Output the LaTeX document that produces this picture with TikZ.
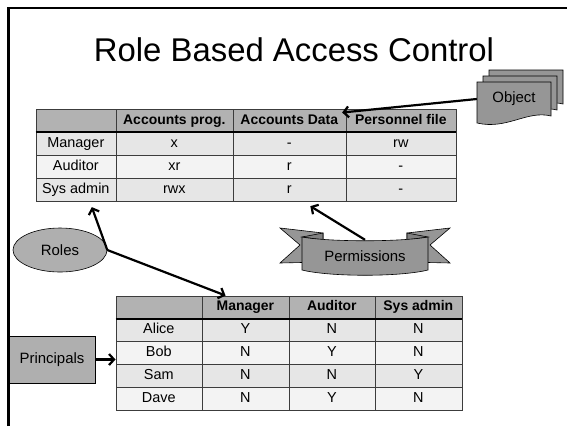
\documentclass[tikz,border=0pt]{standalone}
\usepackage{fontspec}
\setmainfont{Liberation Sans}
\usetikzlibrary{matrix, positioning, arrows.meta, shapes.geometric}
\definecolor{HeadGray}{RGB}{178,178,178}
\definecolor{RowDark}{RGB}{230,230,230}
\definecolor{RowLight}{RGB}{243,243,243}
\definecolor{ShapeGray}{RGB}{175,175,175}
\definecolor{DarkGray}{RGB}{150,150,150}
\definecolor{GridColor}{RGB}{60,60,60}
\tikzstyle{arrow} = [line width=2.2bp, black, -{Straight Barb[length=5bp,width=11bp]}]
\tikzstyle{label} = [font=\fontsize{15}{17}\selectfont]
\tikzset{
  table/.style={matrix of nodes, nodes in empty cells, anchor=north west,
    row sep=-0.6bp, column sep=-0.6bp,
    nodes={draw=GridColor, line width=0.6bp, inner sep=0pt, anchor=center,
      text height=10bp, text depth=2.5bp, font=\fontsize{14.5}{16}\selectfont},
    row 1/.style={nodes={fill=HeadGray, font=\fontsize{14}{16}\selectfont\bfseries}},
    row 2/.style={nodes={fill=RowDark}},
    row 3/.style={nodes={fill=RowLight}},
    row 4/.style={nodes={fill=RowDark}},
    row 5/.style={nodes={fill=RowLight}}},
  document/.pic={
    \path[fill=DarkGray, draw=black, line width=0.6bp]
      (0,0) -- (74,0) -- (74,34) .. controls (50,28) and (30,48) .. (0,41) -- cycle;
  }
}
\begin{document}
\begin{tikzpicture}[x=1bp, y=-1bp]
  \useasboundingbox (0,0) rectangle (567,426);

  % Title
  \node[font=\fontsize{33}{38}\selectfont, anchor=base] (title) at (294,61) {Role Based Access Control};

  % Permissions table (roles x objects)
  \matrix (perm) [table,
    nodes={minimum height=23bp},
    column 1/.style={nodes={minimum width=80bp}},
    column 2/.style={nodes={minimum width=117bp}},
    column 3/.style={nodes={minimum width=113bp}},
    column 4/.style={nodes={minimum width=110bp}}] at (32,105) {
      & Accounts prog. & Accounts Data & Personnel file \\
    Manager & x & - & rw \\
    Auditor & xr & r & - \\
    Sys admin & rwx & r & - \\
  };
  \draw[line width=1.8bp] (perm-1-1.south west) -- (perm-1-4.south east);

  % User assignment table (principals x roles)
  \matrix (ua) [table,
    nodes={minimum height=22.8bp},
    column 1/.style={nodes={minimum width=86bp}},
    column 2/.style={nodes={minimum width=87bp}},
    column 3/.style={nodes={minimum width=86bp}},
    column 4/.style={nodes={minimum width=87bp}}] at (112,292) {
      & Manager & Auditor & Sys admin \\
    Alice & Y & N & N \\
    Bob & N & Y & N \\
    Sam & N & N & Y \\
    Dave & N & Y & N \\
  };
  \draw[line width=1.8bp] (ua-1-1.south west) -- (ua-1-4.south east);

  % Object (stack of documents)
  \pic at (489,70) {document};
  \pic at (483,76) {document};
  \pic at (477,82) {document};
  \node[label, minimum width=74bp, minimum height=32bp] (obj) at (514,99) {Object};

  % Roles
  \node[ellipse, label, draw=black, line width=0.6bp, fill=ShapeGray,
    minimum width=94bp, minimum height=44bp, inner sep=0pt] (roles) at (60,250) {Roles};

  % Principals
  \node[rectangle, label, draw=black, line width=0.6bp, fill=ShapeGray,
    minimum width=86bp, minimum height=47bp, inner sep=0pt] (princ) at (52,359.5) {Principals};

  % Permissions ribbon
  \path[fill=DarkGray, draw=black, line width=0.6bp]
    (280,228) -- (323,233) -- (323,262) -- (280,263) -- (300,245) -- cycle;
  \path[fill=DarkGray, draw=black, line width=0.6bp]
    (450,228) -- (407,233) -- (407,262) -- (450,263) -- (430,245) -- cycle;
  \path[fill=DarkGray!85!black, draw=black, line width=0.6bp]
    (302,237) -- (323,233) -- (323,240) -- cycle;
  \path[fill=DarkGray!85!black, draw=black, line width=0.6bp]
    (428,237) -- (407,233) -- (407,240) -- cycle;
  \path[fill=DarkGray, draw=black, line width=0.6bp]
    (302,237) .. controls (330,242) and (400,242) .. (428,237)
    -- (428,270) .. controls (400,277) and (330,277) .. (302,270) -- cycle;
  \node[label, minimum width=126bp, minimum height=32bp, inner sep=0pt] (permis) at (365,256) {Permissions};

  % Connectors
  \draw[arrow] (obj.west) -- ([xshift=-4bp, yshift=-4bp]perm-1-3.north east);
  \draw[arrow] (roles.east) -- ([xshift=16bp, yshift=-6bp]perm-4-1.south);
  \draw[arrow] (roles.east) -- ([xshift=24bp]ua-1-2.north west);
  \draw[arrow] (permis.north) -- ([xshift=21bp, yshift=-5bp]perm-4-3.south);
  \draw[arrow] (princ.east) -- (princ.east -| ua-1-1.west);

  % Slide frame
  \draw[line width=2.5bp] (8.5,426) -- (8.5,8) -- (567,8);
\end{tikzpicture}
\end{document}
